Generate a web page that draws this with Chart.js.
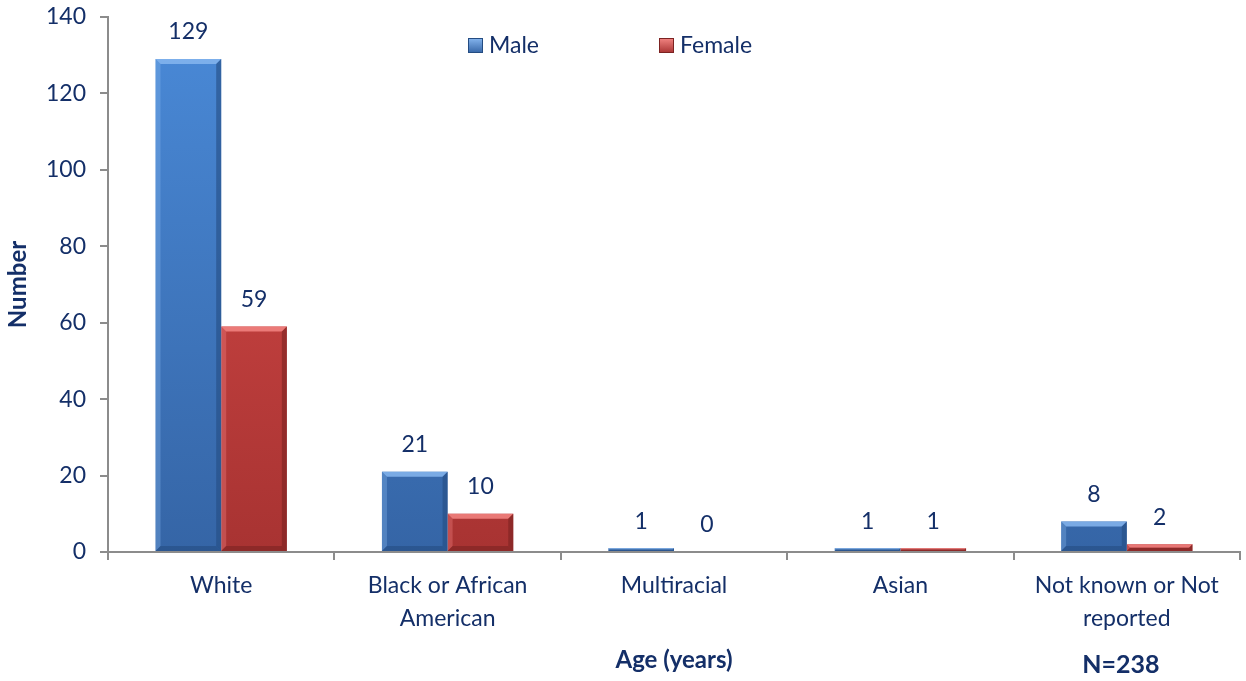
<!DOCTYPE html>
<html>
<head>
<meta charset="utf-8">
<script src="https://cdn.jsdelivr.net/npm/chart.js@4"></script>
<style>
  body { margin: 0; background: #fff; }
  #wrap { width: 1246px; height: 681px; position: relative; }
</style>
</head>
<body>
<div id="wrap"><canvas id="raceChart"></canvas></div>
<script>
const categories = [
  "White",
  ["Black or African", "American"],
  "Multiracial",
  "Asian",
  ["Not known or Not", "reported"],
];
const maleValues = [129, 21, 1, 1, 8];
const femaleValues = [59, 10, 0, 1, 2];
const seriesNames = ["Male", "Female"];
const yMax = 140;
const yStep = 20;
const noteText = "N=238";

const textColor = "#142f68";
const axisColor = "#8c8c8c";
const fontFamily = "Lato, 'Open Sans', sans-serif";

// colour sets: [top, bottom, highlight, shadow]
const palette = {
  Male: ["#4a8ad8", "#3565a6", "#86b6ef", "#244c82"],
  Female: ["#da4c4a", "#a83332", "#f38583", "#7c2322"],
};

function barGradient(context, name) {
  const { chart } = context;
  const area = chart.chartArea;
  if (!area) return palette[name][0];
  const g = chart.ctx.createLinearGradient(0, area.top, 0, area.bottom);
  g.addColorStop(0, palette[name][0]);
  g.addColorStop(1, palette[name][1]);
  return g;
}

// bevel edges on each bar
const bevelPlugin = {
  id: "bevel",
  afterDatasetsDraw(chart) {
    const ctx = chart.ctx;
    chart.data.datasets.forEach((ds, i) => {
      const meta = chart.getDatasetMeta(i);
      const cols = palette[ds.label];
      meta.data.forEach((bar) => {
        const { x, y, base, width } = bar.getProps(["x", "y", "base", "width"], true);
        const h = base - y;
        if (h < 1) return;
        const l = x - width / 2, r = x + width / 2;
        const b = Math.min(5, h / 2);
        ctx.save();
        ctx.globalAlpha = 0.85;
        ctx.fillStyle = cols[2];
        ctx.beginPath();
        ctx.moveTo(l, y); ctx.lineTo(r, y); ctx.lineTo(r - b, y + b); ctx.lineTo(l + b, y + b);
        ctx.closePath(); ctx.fill();
        ctx.globalAlpha = 0.35;
        ctx.beginPath();
        ctx.moveTo(l, y); ctx.lineTo(l + b, y + b); ctx.lineTo(l + b, base - b); ctx.lineTo(l, base);
        ctx.closePath(); ctx.fill();
        ctx.globalAlpha = 0.6;
        ctx.fillStyle = cols[3];
        ctx.beginPath();
        ctx.moveTo(r, y); ctx.lineTo(r, base); ctx.lineTo(r - b, base - b); ctx.lineTo(r - b, y + b);
        ctx.closePath(); ctx.fill();
        ctx.beginPath();
        ctx.moveTo(l, base); ctx.lineTo(r, base); ctx.lineTo(r - b, base - b); ctx.lineTo(l + b, base - b);
        ctx.closePath(); ctx.fill();
        ctx.restore();
      });
    });
  },
};

const labelPlugin = {
  id: "valueLabels",
  afterDatasetsDraw(chart) {
    const ctx = chart.ctx;
    ctx.save();
    ctx.font = "23px " + fontFamily;
    ctx.fillStyle = textColor;
    ctx.textAlign = "center";
    ctx.textBaseline = "middle";
    chart.data.datasets.forEach((ds, i) => {
      chart.getDatasetMeta(i).data.forEach((bar, j) => {
        ctx.fillText(String(ds.data[j]), bar.x, bar.y - 27);
      });
    });
    ctx.restore();
  },
};

const legendPlugin = {
  id: "innerLegend",
  afterDraw(chart) {
    const ctx = chart.ctx;
    const spots = [468, 659];
    ctx.save();
    ctx.font = "23px " + fontFamily;
    ctx.textBaseline = "middle";
    seriesNames.forEach((name, i) => {
      const x = spots[i], y = 38;
      const g = ctx.createLinearGradient(0, y, 0, y + 15);
      g.addColorStop(0, palette[name][2]);
      g.addColorStop(1, palette[name][1]);
      ctx.fillStyle = g;
      ctx.fillRect(x, y, 15, 15);
      ctx.strokeStyle = palette[name][3];
      ctx.lineWidth = 1;
      ctx.strokeRect(x + 0.5, y + 0.5, 14, 14);
      ctx.fillStyle = textColor;
      ctx.fillText(name, x + 21, y + 8);
    });
    ctx.restore();
  },
};

const notePlugin = {
  id: "note",
  afterDraw(chart) {
    const ctx = chart.ctx;
    const xs = chart.scales.x;
    ctx.save();
    ctx.font = "bold 25px " + fontFamily;
    ctx.fillStyle = textColor;
    ctx.textAlign = "center";
    ctx.textBaseline = "middle";
    ctx.fillText(noteText, xs.getPixelForValue(categories.length - 1) - 6, 665);
    ctx.restore();
  },
};

new Chart(document.getElementById("raceChart"), {
  type: "bar",
  data: {
    labels: categories,
    datasets: [
      {
        label: "Male",
        data: maleValues,
        backgroundColor: (c) => barGradient(c, "Male"),
        borderWidth: 0,
        categoryPercentage: 0.58,
        barPercentage: 1,
      },
      {
        label: "Female",
        data: femaleValues,
        backgroundColor: (c) => barGradient(c, "Female"),
        borderWidth: 0,
        categoryPercentage: 0.58,
        barPercentage: 1,
      },
    ],
  },
  options: {
    responsive: true,
    maintainAspectRatio: false,
    animation: false,
    layout: { padding: { top: 17, right: 6, left: 0, bottom: 0 } },
    plugins: {
      legend: { display: false },
      tooltip: { enabled: false },
    },
    scales: {
      x: {
        grid: { drawOnChartArea: false, drawTicks: true, tickLength: 8, color: axisColor, lineWidth: 2, offset: true },
        border: { display: true, color: axisColor, width: 2 },
        ticks: {
          color: textColor,
          font: { family: fontFamily, size: 23, lineHeight: 1.45 },
          padding: 9,
          maxRotation: 0,
          autoSkip: false,
        },
        title: {
          display: true,
          text: "Age (years)",
          color: textColor,
          font: { family: fontFamily, size: 24, weight: "bold" },
          padding: { top: 0, bottom: 6 },
        },
        afterFit(scale) { scale.height = 129; },
      },
      y: {
        min: 0,
        max: yMax,
        grid: { drawOnChartArea: false, drawTicks: true, tickLength: 8, color: axisColor, lineWidth: 2 },
        border: { display: true, color: axisColor, width: 2 },
        ticks: {
          stepSize: yStep,
          color: textColor,
          font: { family: fontFamily, size: 23 },
          padding: 14,
        },
        title: {
          display: true,
          text: "Number",
          color: textColor,
          font: { family: fontFamily, size: 24, weight: "bold" },
          padding: { top: 4, bottom: 0 },
        },
        afterFit(scale) {
          scale.width = 108;
          scale.paddingTop = 0;
        },
      },
    },
  },
  plugins: [bevelPlugin, labelPlugin, legendPlugin, notePlugin],
});
</script>
</body>
</html>
